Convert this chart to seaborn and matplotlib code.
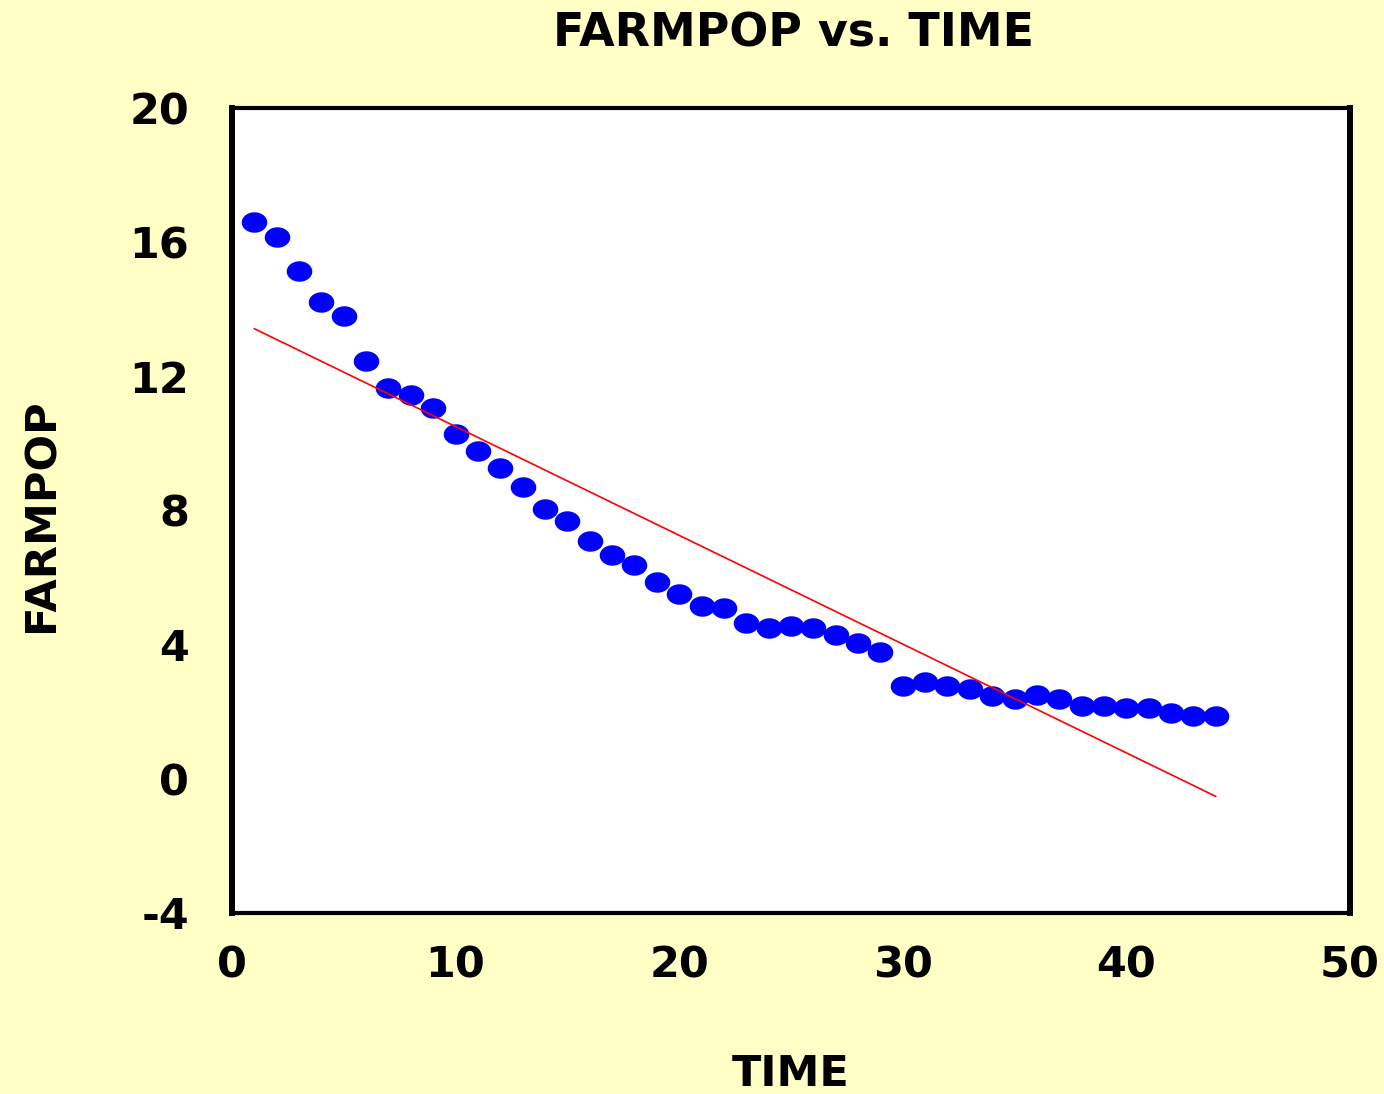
import numpy as np
import pandas as pd
import matplotlib
matplotlib.use("Agg")
import matplotlib.pyplot as plt
from matplotlib.path import Path
import seaborn as sns

# ========= DATOS =========
time = list(range(1, 45))
farmpop = [16.6, 16.16, 15.15, 14.22, 13.8, 12.46, 11.66, 11.45, 11.06, 10.29,
           9.78, 9.27, 8.71, 8.05, 7.69, 7.1, 6.68, 6.38, 5.87, 5.52,
           5.16, 5.1, 4.65, 4.5, 4.56, 4.5, 4.29, 4.05, 3.79, 2.77,
           2.89, 2.77, 2.68, 2.47, 2.39, 2.5, 2.39, 2.18, 2.18, 2.12,
           2.12, 1.97, 1.88, 1.88]
x_ticks = [0, 10, 20, 30, 40, 50]
y_ticks = [-4, 0, 4, 8, 12, 16, 20]

df = pd.DataFrame({"TIME": time, "FARMPOP": farmpop})

BG = "#FFFFC6"

sns.set_style("white")
plt.rcParams["font.family"] = ["DejaVu Sans"]
plt.rcParams["font.weight"] = "bold"
plt.rcParams["axes.unicode_minus"] = False
plt.rcParams["text.color"] = "black"
plt.rcParams["axes.labelcolor"] = "black"

# marcador eliptico (mas ancho que alto)
theta = np.linspace(0, 2 * np.pi, 40)
ellipse = Path(np.column_stack([np.cos(theta), 0.8 * np.sin(theta)]), closed=True)

fig = plt.figure(figsize=(13.84, 10.94), dpi=100, facecolor=BG)
ax = fig.add_axes([0.1676, 0.1655, 0.8078, 0.7358])
ax.set_facecolor("white")

sns.regplot(data=df, x="TIME", y="FARMPOP", ax=ax, ci=None,
            marker=ellipse,
            scatter_kws={"color": "#0000FF", "s": 340, "linewidths": 0, "alpha": 1},
            line_kws={"color": "#FF0000", "lw": 1.2})

ax.set_xlim(0, 50)
ax.set_ylim(-4, 20)
ax.set_xticks(x_ticks)
ax.set_yticks(y_ticks)
ax.tick_params(axis="both", direction="out", width=2.2,
               labelsize=31, colors="black")
ax.tick_params(axis="y", length=16, pad=15)
ax.tick_params(axis="x", length=13, pad=10)
for lbl in ax.get_xticklabels() + ax.get_yticklabels():
    lbl.set_fontweight("bold")

for side in ["left", "right"]:
    ax.spines[side].set_linewidth(4.3)
for side in ["top", "bottom"]:
    ax.spines[side].set_linewidth(3.0)
for s in ax.spines.values():
    s.set_color("black")
    s.set_visible(True)

ax.set_xlabel("TIME", fontsize=31, fontweight="bold", va="center")
ax.set_ylabel("FARMPOP", fontsize=31, fontweight="bold", va="center")
ax.xaxis.set_label_coords(0.5, -0.2)
ax.yaxis.set_label_coords(-0.17, 0.494)
fig.text(0.573, 0.969, "FARMPOP vs. TIME", ha="center", va="center",
         fontsize=33, fontweight="bold")

fig.savefig("out.png", dpi=100, facecolor=BG)
